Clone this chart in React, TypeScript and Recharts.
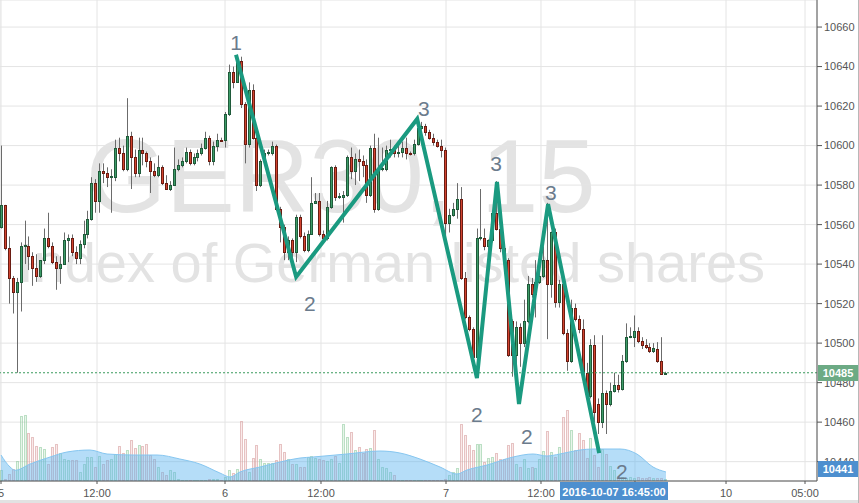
// GER30 15-min candles with zigzag wave drawing, volume and volume MA
import React from "react";
import {
  ComposedChart,
  Bar,
  Line,
  Area,
  Scatter,
  XAxis,
  YAxis,
  CartesianGrid,
  ReferenceLine,
} from "recharts";

// OHLC, one entry per 15-minute candle
const opens = [
  10559, 10570, 10548, 10533, 10526, 10531, 10549, 10549, 10544, 10538,
  10534, 10542, 10553, 10549, 10541, 10538, 10540, 10552, 10553, 10546,
  10543, 10550, 10555, 10563, 10581, 10572, 10587, 10586, 10584, 10584,
  10599, 10596, 10588, 10605, 10594, 10586, 10598, 10596, 10592, 10587,
  10585, 10589, 10581, 10578, 10580, 10588, 10590, 10592, 10597, 10591,
  10594, 10596, 10599, 10604, 10592, 10600, 10603, 10603, 10616, 10637,
  10632, 10643, 10621, 10601, 10628, 10604, 10580, 10592, 10596, 10596,
  10600, 10568, 10559, 10546, 10552, 10546, 10564, 10554, 10547, 10555,
  10571, 10572, 10555, 10553, 10569, 10589, 10574, 10574, 10575, 10594,
  10587, 10593, 10592, 10590, 10575, 10599, 10568, 10588, 10588, 10598,
  10598, 10596, 10597, 10599, 10596, 10596, 10601, 10609, 10610, 10607,
  10604, 10602, 10600, 10598, 10561, 10565, 10568, 10573, 10533, 10513,
  10507, 10493, 10553, 10553, 10549, 10552, 10566, 10558, 10548, 10542,
  10511, 10494, 10508, 10500, 10511, 10530, 10525, 10531, 10534, 10542,
  10530, 10556, 10521, 10530, 10505, 10491, 10518, 10512, 10507, 10485,
  10473, 10499, 10469, 10460, 10475, 10469, 10476, 10479, 10477, 10491,
  10503, 10503, 10506, 10501, 10499, 10498, 10496, 10497, 10491, 10484.5,
];
const highs = [
  10600, 10570, 10554, 10534, 10533, 10551, 10562, 10554, 10546, 10545,
  10542, 10558, 10566, 10551, 10544, 10544, 10556, 10555, 10555, 10549,
  10552, 10562, 10567, 10584, 10583, 10591, 10591, 10589, 10588, 10603,
  10604, 10600, 10624, 10607, 10598, 10604, 10604, 10597, 10594, 10591,
  10595, 10590, 10585, 10582, 10599, 10593, 10594, 10599, 10598, 10596,
  10598, 10601, 10607, 10605, 10602, 10606, 10604, 10617, 10641, 10640,
  10646, 10645, 10622, 10632, 10631, 10604.5, 10593, 10598, 10598, 10602,
  10600.5, 10569, 10560, 10554, 10553, 10565, 10565, 10556, 10557, 10584,
  10576, 10576, 10557, 10572, 10589.5, 10590, 10576, 10577, 10595, 10599,
  10596, 10598, 10595, 10593, 10600, 10606, 10604, 10599, 10600, 10603,
  10600, 10600, 10602, 10604, 10597, 10603, 10614, 10612, 10611, 10608,
  10606, 10603, 10603, 10599, 10568, 10571, 10581, 10579, 10536, 10514,
  10508, 10558, 10578, 10558, 10552.5, 10567, 10582, 10559, 10549, 10543,
  10512, 10511, 10510, 10522, 10534, 10533, 10542, 10536, 10549, 10571,
  10556.5, 10558, 10532, 10532, 10507, 10522, 10520, 10514, 10512, 10490,
  10502, 10504, 10472, 10504, 10476, 10480, 10485, 10484, 10494, 10510,
  10508, 10514, 10508, 10503, 10502, 10500, 10500, 10500.5, 10503, 10485.5,
];
const lows = [
  10558, 10547, 10520, 10515, 10485, 10516, 10540, 10537, 10529, 10531,
  10533, 10540, 10548, 10540, 10527, 10530, 10540, 10541, 10544, 10540,
  10540, 10548, 10553, 10562, 10566, 10566, 10581, 10579, 10566, 10582,
  10592, 10587, 10587, 10578, 10584, 10584, 10590, 10589, 10576, 10584,
  10584, 10580, 10578, 10577, 10580, 10587, 10589, 10591, 10590, 10590,
  10592, 10595, 10598, 10590, 10590, 10597, 10602, 10599, 10615, 10629,
  10632, 10619, 10591, 10599, 10603, 10577, 10579, 10591, 10595, 10595,
  10567, 10551, 10542, 10542, 10542, 10541, 10553, 10546, 10546, 10555,
  10571, 10554, 10551, 10552, 10568, 10572, 10573, 10561, 10574, 10583,
  10580, 10582, 10584, 10571, 10574, 10566, 10567, 10587, 10587, 10594,
  10594, 10594, 10594, 10593, 10595, 10595, 10600, 10608, 10605, 10603,
  10600, 10599, 10594, 10552, 10556, 10564, 10563, 10532, 10512, 10506,
  10491, 10492, 10552, 10547, 10547, 10551, 10557, 10546, 10541, 10493,
  10483, 10483, 10488, 10498, 10510, 10523, 10513, 10530, 10533, 10502,
  10523, 10518, 10518, 10504, 10486, 10490, 10511, 10505, 10483, 10471,
  10472, 10460, 10454, 10457, 10454, 10468, 10475, 10475, 10476, 10490,
  10502.5, 10498, 10500, 10497, 10497, 10495, 10495, 10490, 10484, 10484,
];
const closes = [
  10570, 10548, 10533, 10526, 10531, 10549, 10549.5, 10544, 10538, 10534,
  10542, 10553, 10549, 10541, 10538, 10540, 10552, 10553, 10546, 10543,
  10550, 10555, 10563, 10581, 10572, 10587, 10586, 10584, 10584.5, 10599,
  10596, 10588, 10605, 10594, 10586, 10598, 10596, 10592, 10587, 10585,
  10589, 10581, 10578, 10580, 10588, 10590, 10592, 10597, 10591, 10594,
  10596, 10599, 10604, 10592, 10600, 10603, 10602.5, 10616, 10637, 10632,
  10643, 10621, 10601, 10628, 10604, 10580, 10592, 10596, 10596.5, 10600,
  10568, 10559, 10546, 10552, 10546, 10564, 10554, 10547, 10555, 10571,
  10572, 10555, 10553, 10569, 10589, 10574, 10574.5, 10575, 10594, 10587,
  10593, 10592, 10590, 10575, 10599, 10568, 10588, 10588.5, 10598, 10598.5,
  10596, 10597, 10599, 10596, 10595.5, 10601, 10609, 10610, 10607, 10604,
  10602, 10600, 10598, 10561, 10565, 10568, 10573, 10533, 10513, 10507,
  10493, 10553, 10553.5, 10549, 10552, 10566, 10558, 10548, 10542, 10494,
  10494, 10508, 10500, 10511, 10530, 10525, 10531, 10534, 10542, 10530,
  10556, 10521, 10530, 10505, 10491, 10518, 10512, 10507, 10485, 10473,
  10499, 10465, 10460, 10475, 10469, 10476, 10479, 10477, 10491, 10503,
  10503.5, 10506, 10501, 10499, 10498, 10496, 10497.5, 10491, 10484.5, 10485,
];
const volumes = [
  110, 23, 67, 123, 200, 650, 657, 483, 440, 347,
  340, 320, 173, 340, 373, 283, 223, 213, 213, 213,
  90, 173, 240, 240, 140, 247, 173, 207, 223, 267,
  347, 283, 307, 413, 333, 357, 350, 373, 257, 223,
  140, 90, 57, 107, 90, 23, 13, 13, 13, 13,
  13, 13, 13, 23, 23, 23, 7, 40, 107, 80,
  123, 600, 423, 90, 233, 357, 223, 180, 183, 183,
  207, 373, 290, 223, 173, 173, 140, 140, 240, 247,
  233, 223, 207, 200, 223, 247, 180, 567, 440, 490,
  313, 340, 280, 323, 333, 513, 223, 140, 133, 90,
  57, 13, 13, 13, 13, 13, 13, 13, 13, 13,
  13, 13, 13, 23, 57, 90, 133, 567, 457, 357,
  313, 367, 367, 190, 233, 240, 280, 223, 223, 357,
  380, 173, 140, 223, 133, 140, 133, 223, 300, 500,
  290, 240, 340, 640, 713, 513, 307, 480, 407, 233,
  433, 257, 140, 323, 273, 147, 107, 50, 40, 30,
  40, 30, 40, 35, 30, 40, 30, 35, 30, 20,
];

// volume moving average (read at sparse candle positions)
const maIdx = [
  0, 2.3, 3.6, 7.4, 12.5, 16.8, 22.6, 27, 33.6, 39.7, 45.5, 50.6, 55.7,
  58.3, 60.8, 65.9, 71, 76.1, 79.4, 88, 96.4, 101.5, 106.6, 111.7, 116,
  118.6, 123.7, 130.3, 135.4, 138.9, 142.2, 147.3, 150.6, 157.5, 161.8,
  165.9, 169.2,
];
const maVals = [
  260, 140, 107, 170, 240, 290, 310, 270, 260, 260, 220, 170, 80,
  40, 90, 140, 190, 230, 240, 270, 300, 280, 220, 140, 70,
  110, 160, 240, 270, 250, 270, 310, 320, 320, 270,
  140, 90,
];

// hand-drawn zigzag (1-2-3 waves)
const zigIdx = [59.8, 75.1, 105.9, 121.1, 126.2, 131.8, 139.2, 152.2];
const zigPrice = [10646, 10533.5, 10613.5, 10482.3, 10581.6, 10469.2, 10570.4, 10444.3];
const waveIdx = [59.8, 78.6, 107.6, 121.1, 126.0, 133.8, 139.9, 158.0];
const wavePrice = [10652, 10520.3, 10619, 10464.1, 10590.7, 10452.9, 10576.5, 10435.2];
const waveText = ["1", "2", "3", "2", "3", "2", "3", "2"];

const timeTicks = [0, 24.43, 57, 81.42, 113.23, 137.4, 161.32, 184.48, 204.58];
const timeLabels = ["5", "12:00", "6", "12:00", "7", "12:00", "", "10", "05:00"];
const priceTicks = [10440, 10460, 10480, 10500, 10520, 10540, 10560, 10580, 10600, 10620, 10640, 10660];
const lastPrice = 10485;

const candles = opens.map((o, i) => ({
  i,
  o,
  h: highs[i],
  l: lows[i],
  c: closes[i],
  v: volumes[i],
}));
const maData = maIdx.map((i, k) => ({ i, ma: maVals[k] }));
const zigData = zigIdx.map((i, k) => ({ i, p: zigPrice[k] }));
const waveData = waveIdx.map((i, k) => ({ i, p: wavePrice[k], t: waveText[k] }));

const FONT = "'Liberation Sans', Arial, sans-serif";

function Candle(props: any) {
  const { x, y, width, height, payload } = props;
  if (x == null || y == null || !payload) return null;
  const { o, h, l, c } = payload;
  const top = Math.min(y, y + height);
  const span = Math.abs(height);
  const k = h > l ? span / (h - l) : 0;
  const cx = Math.round(x + width / 2) + 0.5;
  const up = c >= o;
  const y1 = Math.round(top + (h - Math.max(o, c)) * k) + 0.5;
  const y2 = Math.max(Math.round(top + (h - Math.min(o, c)) * k) + 0.5, y1 + 1);
  return (
    <g>
      <line x1={cx} x2={cx} y1={top} y2={top + span} stroke="#6b6b6b" strokeWidth={1} />
      <rect
        x={cx - 1}
        y={y1}
        width={2}
        height={y2 - y1}
        fill={up ? "#3d9c68" : "#d2432f"}
        stroke={up ? "#1f5a3a" : "#6a1c12"}
        strokeWidth={1}
      />
    </g>
  );
}

function VolBar(props: any) {
  const { x, y, width, height, payload } = props;
  if (x == null || y == null || !payload) return null;
  const up = payload.c >= payload.o;
  const cx = Math.round(x + width / 2) + 0.5;
  const top = Math.round(y) + 0.5;
  const bottom = y + height;
  return (
    <rect
      x={cx - 1}
      y={top}
      width={2}
      height={Math.max(bottom - top, 0.5)}
      fill={up ? "rgba(175,222,185,0.3)" : "rgba(238,185,185,0.3)"}
      stroke={up ? "rgba(140,200,155,0.55)" : "rgba(215,160,160,0.6)"}
      strokeWidth={1}
    />
  );
}

function WaveLabel(props: any) {
  const { cx, cy, payload } = props;
  if (cx == null || !payload) return null;
  return (
    <text
      x={cx}
      y={cy}
      textAnchor="middle"
      dominantBaseline="central"
      fontSize={21}
      fill="#6b7b8c"
      fontFamily={FONT}
    >
      {payload.t}
    </text>
  );
}

const tagStyle: React.CSSProperties = {
  position: "absolute",
  color: "#fff",
  fontWeight: "bold",
  fontSize: 11,
  textAlign: "center",
  fontFamily: FONT,
};

export default function App() {
  return (
    <div
      style={{
        position: "absolute",
        left: 0,
        top: 0,
        width: 859,
        height: 503,
        overflow: "hidden",
        background: "#fff",
        fontFamily: FONT,
      }}
    >
      {/* watermark behind the chart */}
      <svg width={859} height={503} style={{ position: "absolute", left: 0, top: 0 }}>
        <text x={86} y={212} fontSize={103} fill="#e3e3e3" fontFamily={FONT}>
          GER30, 15
        </text>
        <text x={18} y={282} fontSize={56} fill="#e3e3e3" fontFamily={FONT}>
          Index of German listed shares
        </text>
      </svg>

      <ComposedChart
        width={859}
        height={503}
        data={candles}
        margin={{ top: 0, right: 0, bottom: 0, left: 0 }}
      >
        <CartesianGrid stroke="#e4e4e4" xAxisId="main" yAxisId="price" />
        <XAxis
          xAxisId="main"
          type="number"
          dataKey="i"
          domain={[-0.2545, 207.63]}
          allowDataOverflow
          ticks={timeTicks}
          interval={0}
          tickFormatter={(_v: number, idx: number) => timeLabels[idx]}
          height={22}
          axisLine={{ stroke: "#555" }}
          tickLine={{ stroke: "#555" }}
          tickSize={3}
          tickMargin={5}
          tick={{ fontSize: 11, fill: "#555" }}
        />
        <XAxis
          xAxisId="vol"
          type="number"
          dataKey="i"
          domain={[-0.2545, 207.63]}
          allowDataOverflow
          hide
        />
        <YAxis
          yAxisId="price"
          orientation="right"
          width={42}
          domain={[10430.2, 10673.7]}
          allowDataOverflow
          ticks={priceTicks}
          interval={0}
          axisLine={{ stroke: "#555" }}
          tickLine={{ stroke: "#555" }}
          tickSize={5}
          tickMargin={2}
          tick={{ fontSize: 11, fill: "#555" }}
        />
        <YAxis yAxisId="vol" hide domain={[0, 4810]} allowDataOverflow />

        <Bar
          xAxisId="vol"
          yAxisId="vol"
          dataKey="v"
          barSize={3}
          zIndex={50}
          shape={(p: any) => <VolBar {...p} />}
          isAnimationActive={false}
        />
        <Area
          xAxisId="vol"
          yAxisId="vol"
          data={maData}
          dataKey="ma"
          type="monotone"
          zIndex={60}
          fill="#5ab4f0"
          fillOpacity={0.45}
          stroke="#86c6f0"
          strokeWidth={1}
          dot={false}
          activeDot={false}
          isAnimationActive={false}
        />
        <ReferenceLine
          xAxisId="main"
          yAxisId="price"
          y={lastPrice}
          stroke="#3a9a5c"
          strokeDasharray="2 2"
        />
        <Bar
          xAxisId="main"
          yAxisId="price"
          dataKey={(d: any) => [d.l, d.h]}
          barSize={3}
          shape={(p: any) => <Candle {...p} />}
          isAnimationActive={false}
        />
        <Line
          xAxisId="main"
          yAxisId="price"
          data={zigData}
          dataKey="p"
          type="linear"
          stroke="#1a9a80"
          strokeWidth={4}
          dot={false}
          activeDot={false}
          isAnimationActive={false}
        />
        <Scatter
          xAxisId="main"
          yAxisId="price"
          data={waveData}
          dataKey="p"
          shape={(p: any) => <WaveLabel {...p} />}
          isAnimationActive={false}
        />
      </ComposedChart>

      {/* price and time tags on the axes */}
      <div style={{ ...tagStyle, left: 818, top: 365, width: 40, height: 16, lineHeight: "16px", background: "#6caa84" }}>
        10485
      </div>
      <div style={{ ...tagStyle, left: 818, top: 461, width: 40, height: 16, lineHeight: "16px", background: "#4d8fcf" }}>
        10441
      </div>
      <div style={{ ...tagStyle, left: 560, top: 482, width: 108, height: 21, lineHeight: "21px", background: "#4d8fcf" }}>
        2016-10-07 16:45:00
      </div>
      <div style={{ position: "absolute", left: 0, top: 500, width: 859, height: 3, background: "#e2e2e2" }} />
      <div style={{ position: "absolute", left: 858, top: 0, width: 1, height: 503, background: "#b8b8b8" }} />
    </div>
  );
}
